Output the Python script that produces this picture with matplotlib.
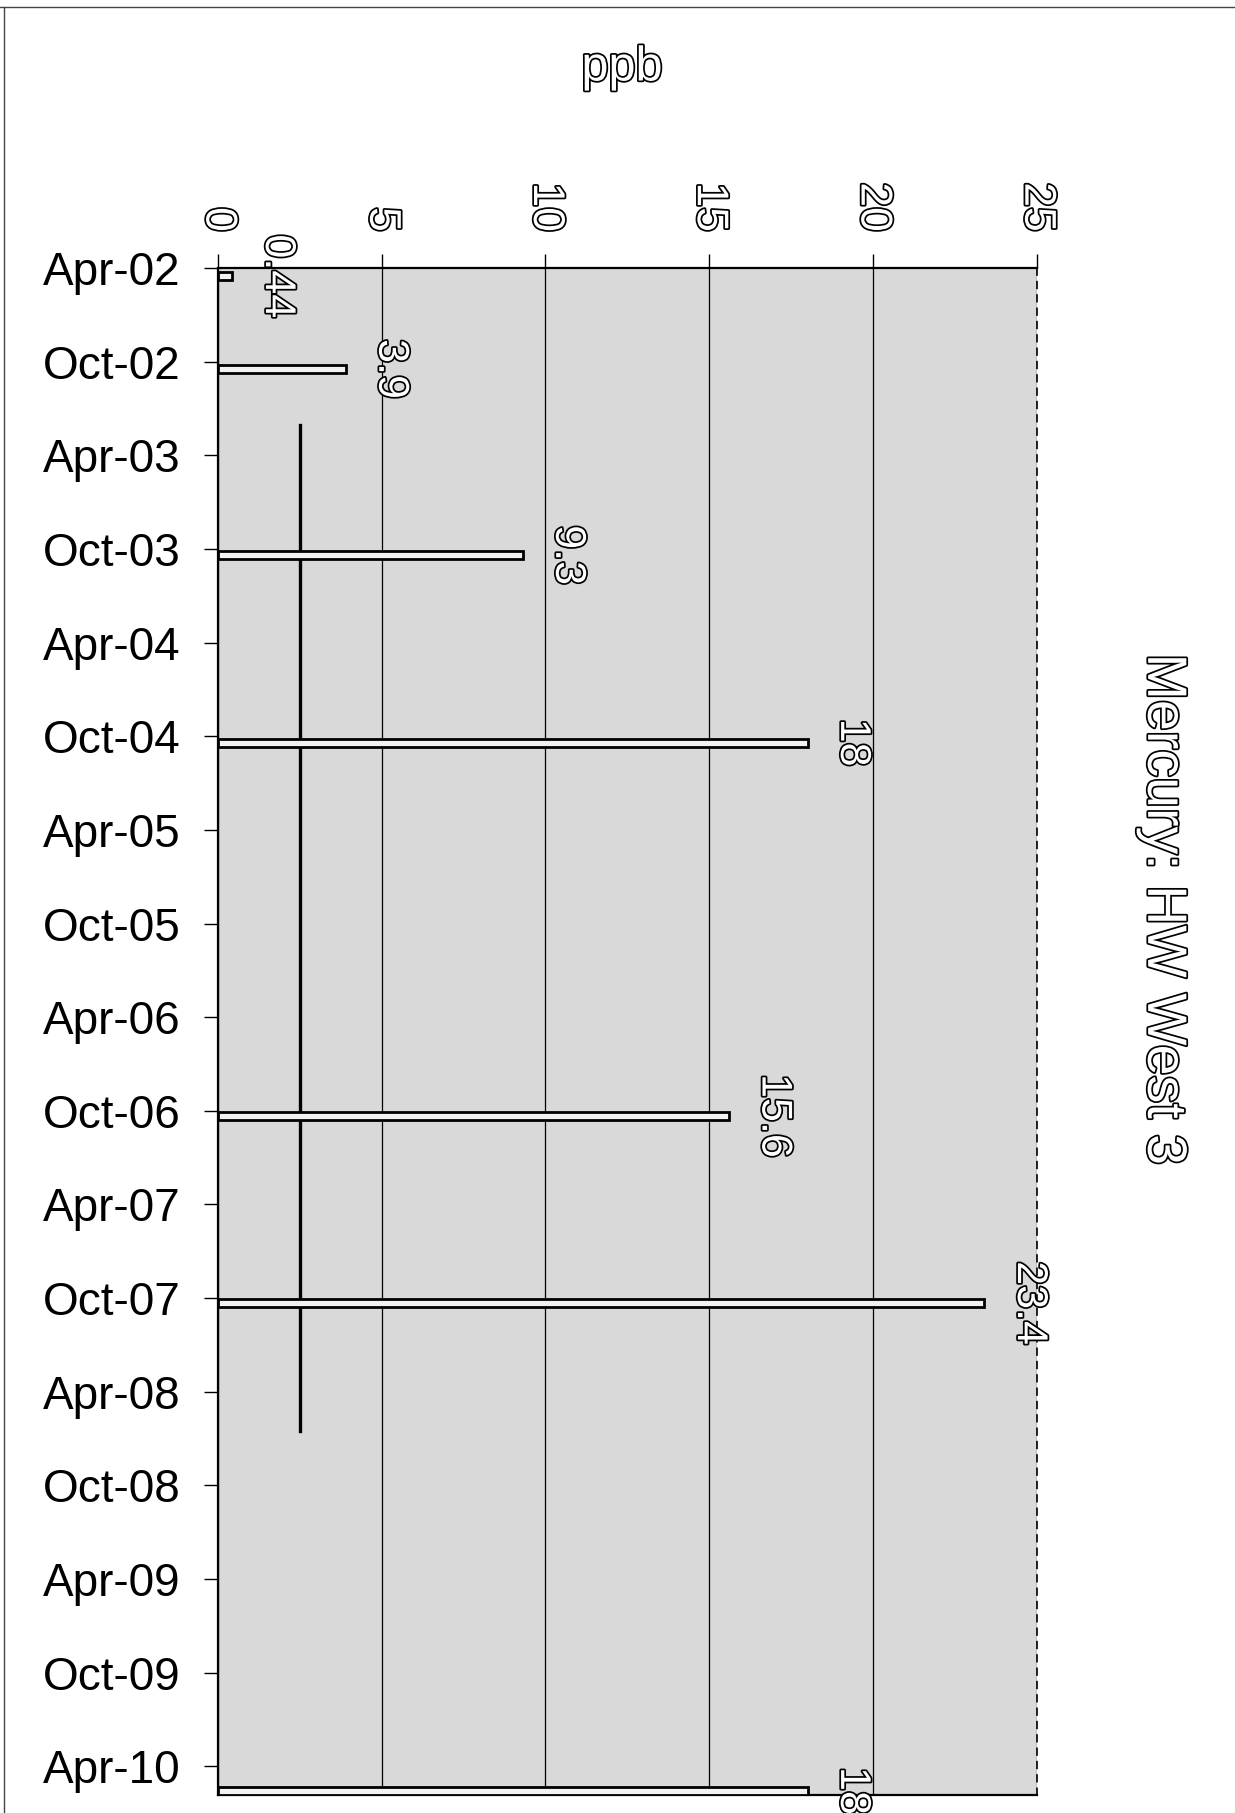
import numpy as np
import matplotlib.pyplot as plt
import matplotlib.dates as mdates
import matplotlib.patheffects as pe
from matplotlib.lines import Line2D

plt.rcParams['font.family'] = ['Liberation Sans', 'DejaVu Sans']

# sample dates and mercury results (ppb)
sample_dates = np.array(['2002-04-17', '2002-10-15', '2003-10-13', '2004-10-13',
                         '2006-10-11', '2007-10-11', '2010-05-20'], dtype='datetime64[D]')
mercury_ppb = [0.44, 3.9, 9.3, 18, 15.6, 23.4, 18]
value_labels = ['0.44', '3.9', '9.3', '18', '15.6', '23.4', '18']

# reference level line
limit_ppb = 2.5
limit_span = np.array(['2003-02-01', '2008-06-16'], dtype='datetime64[D]')

tick_dates = np.arange('2002-04', '2010-05', 6, dtype='datetime64[M]').astype('datetime64[D]')
date_range = np.array(['2002-04-01', '2010-05-28'], dtype='datetime64[D]')
ppb_ticks = [0, 5, 10, 15, 20, 25]

outline = [pe.withStroke(linewidth=2.5, foreground='black')]

fig = plt.figure(figsize=(12.35, 18.13), dpi=100)
ax = fig.add_axes([0.1765, 0.0099, 0.663, 0.8423])
ax.set_facecolor('#d9d9d9')

y = mdates.date2num(sample_dates)
ax.barh(y, mercury_ppb, height=16, color='#f2f2f2', edgecolor='black', linewidth=2, zorder=3)
ax.plot([limit_ppb, limit_ppb], mdates.date2num(limit_span), color='black', lw=2.4, zorder=2)

for yy, v, lab in zip(y, mercury_ppb, value_labels):
    ax.text(v + 0.75, yy, lab, rotation=-90, ha='left', va='center', fontsize=31,
            color='white', path_effects=outline, clip_on=False, zorder=4)

ax.set_xlim(0, 25)
ax.set_ylim(mdates.date2num(date_range[1]), mdates.date2num(date_range[0]))

ax.xaxis.tick_top()
ax.set_xticks(ppb_ticks)
ax.tick_params(axis='x', labelrotation=-90, length=10, width=1, pad=16, labelsize=32)
for lbl in ax.get_xticklabels():
    lbl.set_color('white')
    lbl.set_path_effects(outline)

ax.set_yticks(mdates.date2num(tick_dates))
ax.yaxis.set_major_formatter(mdates.DateFormatter('%b-%y'))
ax.tick_params(axis='y', length=10, width=1, pad=17, labelsize=33)

ax.grid(axis='x', color='black', lw=0.9, zorder=1)
ax.grid(axis='y', visible=False)
for side in ['top', 'left', 'bottom']:
    ax.spines[side].set_linewidth(1.6)
ax.spines['right'].set_linestyle((0, (4, 4)))
ax.spines['right'].set_linewidth(1.2)

fig.text(0.5036, 0.9625, 'ppb', ha='center', va='center', fontsize=35,
         color='white', path_effects=outline)
fig.text(0.941, 0.4986, 'Mercury: HW West 3', rotation=-90, ha='center', va='center',
         fontsize=40, color='white', path_effects=outline)

# scanned page border
fig.add_artist(Line2D([0.003, 0.003], [0, 0.996], transform=fig.transFigure, color='#444444', lw=1))
fig.add_artist(Line2D([0, 1], [0.996, 0.996], transform=fig.transFigure, color='#444444', lw=1))

fig.savefig('out.png', dpi=100)
